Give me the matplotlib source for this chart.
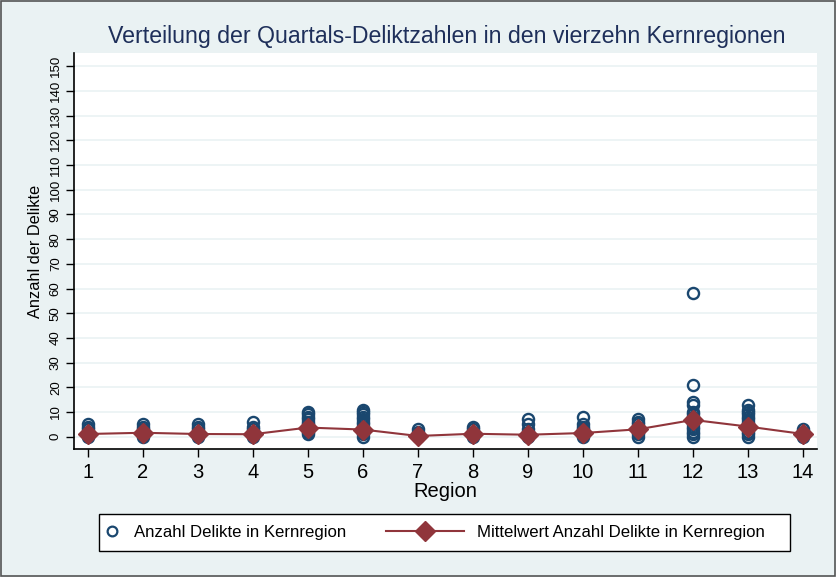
import matplotlib
matplotlib.use("Agg")
import matplotlib.pyplot as plt
import matplotlib.patches as mpatches

plt.rcParams['font.family'] = ['Liberation Sans', 'DejaVu Sans']

regionen = list(range(1, 15))

# Quartalswerte je Region (ueberlagerte Werte nur einmal aufgefuehrt)
delikte = [
    [0, 1, 2, 3, 4, 5],
    [0, 1, 2, 3, 4, 5],
    [0, 1, 2, 3, 4, 5],
    [0, 1, 2, 3, 4, 6],
    [1, 2, 3, 4, 5, 6, 7, 8, 9, 10],
    [0, 1, 2, 3, 4, 5, 6, 7, 8, 9, 10, 11],
    [0, 1, 2, 3],
    [0, 1, 2, 3, 4],
    [0, 1, 2, 3, 5, 7],
    [0, 1, 2, 3, 4, 5, 8],
    [0, 1, 2, 3, 4, 5, 6, 7],
    [0, 1, 2, 3, 4, 5, 6, 7, 8, 9, 10, 13, 14, 21, 58],
    [0, 1, 2, 3, 4, 5, 6, 7, 8, 9, 10, 11, 13],
    [0, 1, 2, 3],
]

mittelwerte = [1.1, 1.6, 1.1, 1.0, 3.7, 2.9, 0.3, 1.2, 0.8, 1.5, 3.0, 6.8, 4.1, 1.1]

y_ticks = list(range(0, 151, 10))

bg = '#EAF2F3'
navy = '#1A476F'
maroon = '#90353B'

fig = plt.figure(figsize=(8.37, 5.77), dpi=100, facecolor=bg)
fig.patches.append(mpatches.Rectangle((0.001, 0.002), 0.997, 0.996, transform=fig.transFigure,
                                      fill=False, edgecolor='#555555', linewidth=1.2))

ax = fig.add_axes([0.0888, 0.2213, 0.8872, 0.6874])
ax.set_facecolor('white')

for r, werte in zip(regionen, delikte):
    ax.plot([r] * len(werte), werte, linestyle='none', marker='o', markersize=8,
            markerfacecolor='none', markeredgecolor=navy, markeredgewidth=1.7, zorder=3)

ax.plot(regionen, mittelwerte, color=maroon, linewidth=1.5, marker='D', markersize=10.5,
        markerfacecolor=maroon, markeredgecolor=maroon, zorder=4)

ax.set_xlim(0.757, 14.25)
ax.set_ylim(-5.1, 155.5)
ax.set_xticks(regionen)
ax.set_yticks(y_ticks)
ax.set_yticklabels([str(v) for v in y_ticks], rotation=90, va='center', fontsize=9.5)
ax.tick_params(axis='x', labelsize=14.5, length=6, width=1, pad=4)
ax.tick_params(axis='y', length=6, width=1, pad=3)
ax.grid(axis='y', color=bg, linewidth=1.2)
ax.set_axisbelow(True)
for s in ['top', 'right']:
    ax.spines[s].set_visible(False)
for s in ['left', 'bottom']:
    ax.spines[s].set_linewidth(1.2)

ax.set_xlabel('Region', fontsize=14.5, labelpad=0)
ax.set_ylabel('Anzahl der Delikte', fontsize=11.8, labelpad=5)
fig.text(0.534, 0.936, 'Verteilung der Quartals-Deliktzahlen in den vierzehn Kernregionen',
         ha='center', va='center', fontsize=16.7, color='#1E2F5A')

# Legendenrahmen
fig.patches.append(mpatches.Rectangle((0.118, 0.045), 0.826, 0.064, transform=fig.transFigure,
                                      facecolor='white', edgecolor='black', linewidth=1.0, zorder=5))

h1 = plt.Line2D([], [], linestyle='none', marker='o', markersize=7,
                markerfacecolor='none', markeredgecolor=navy, markeredgewidth=1.6)
h2 = plt.Line2D([], [], color=maroon, linewidth=1.5, marker='D', markersize=10,
                markerfacecolor=maroon, markeredgecolor=maroon)
leg1 = fig.legend([h1], ['Anzahl Delikte in Kernregion'], loc='center left',
                  bbox_to_anchor=(0.1238, 0.077), frameon=False, fontsize=12.1,
                  handlelength=1.0, handletextpad=0.8, borderpad=0, borderaxespad=0)
leg2 = fig.legend([h2], ['Mittelwert Anzahl Delikte in Kernregion'], loc='center left',
                  bbox_to_anchor=(0.4612, 0.077), frameon=False, fontsize=12.1,
                  handlelength=4.64, handletextpad=0.8, borderpad=0, borderaxespad=0)
leg1.set_zorder(6)
leg2.set_zorder(6)

fig.savefig('out.png', dpi=100, facecolor=bg)
